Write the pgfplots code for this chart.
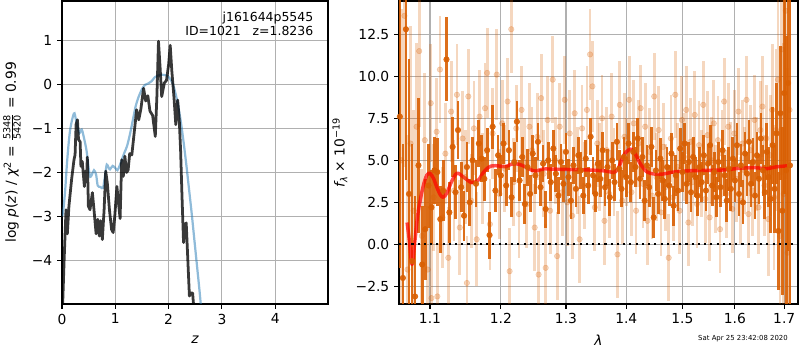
\documentclass[border=0pt]{standalone}
\usepackage{pgfplots}
\pgfplotsset{compat=1.18}
\usepackage{pgfplotstable}
\usepackage{fontspec}
\setmainfont{DejaVu Sans}
\definecolor{mplgrid}{HTML}{B0B0B0}
\definecolor{dorange}{RGB}{217,95,2}
\definecolor{mplblue}{RGB}{31,119,180}

\pgfplotstableread{
x y e
1.060 7.6 9
1.064 -2.0 8
1.068 12.8 9
1.072 3.0 8
1.076 -1.0 7
1.080 -3.1 6
1.0845 4.7 4
1.0895 -1.2 3.5
1.0935 0.9 3
1.098 3.5 2.5
1.102 2.2 2.2
1.106 4.4 2
1.110 4.3 2
1.114 1.5 2
1.118 3.2 1.8
1.1225 11.0 2.5
1.1265 1.9 1.8
1.131 5.8 1.8
1.135 3.1 1.6
1.1385 6.8 1.7
1.143 3.4 1.5
1.147 1.7 1.5
1.151 4.6 1.5
1.155 2.5 1.4
1.159 5.0 1.4
1.164 3.6 1.4
1.168 6.0 1.4
1.172 5.1 1.4
1.176 3.9 1.3
1.180 5.6 1.3
1.1835 0.55 1.4
1.188 7.0 1.3
1.192 3.2 1.3
1.196 5.3 1.2
1.200 4.1 1.2
1.204 6.0 1.2
1.208 3.5 1.2
1.212 5.6 1.2
1.216 2.8 1.2
1.220 4.9 1.2
1.224 7.3 1.2
1.228 3.8 1.2
1.232 5.2 1.2
1.236 2.4 1.2
1.240 4.6 1.1
1.244 3.0 1.1
1.248 5.4 1.1
1.252 4.1 1.1
1.256 6.1 1.1
1.260 3.4 1.1
1.264 4.8 1.1
1.268 2.1 1.1
1.272 5.0 1.1
1.276 3.7 1.1
1.280 5.7 1.1
1.284 4.2 1.1
1.288 2.9 1.1
1.292 4.9 1.1
1.296 3.6 1.1
1.300 5.5 1.1
1.304 4.0 1.1
1.308 2.6 1.1
1.312 4.7 1.1
1.316 3.3 1.1
1.320 5.3 1.1
1.324 4.4 1.1
1.328 2.9 1.1
1.332 5.1 1.1
1.336 3.5 1.1
1.340 6.4 1.1
1.344 4.1 1.1
1.348 3.0 1.1
1.352 4.8 1.1
1.356 3.9 1.1
1.360 5.6 1.1
1.364 3.4 1.1
1.368 4.6 1.1
1.372 2.8 1.1
1.376 5.0 1.1
1.380 3.7 1.1
1.384 6.1 1.1
1.388 4.5 1.1
1.392 3.3 1.1
1.396 5.2 1.2
1.400 4.0 1.2
1.404 6.0 1.2
1.408 3.7 1.2
1.412 5.5 1.2
1.416 4.6 1.2
1.420 6.3 1.2
1.424 3.9 1.2
1.428 5.2 1.2
1.432 2.6 1.2
1.436 4.7 1.2
1.440 3.4 1.2
1.444 5.8 1.2
1.448 1.6 1.2
1.452 4.4 1.2
1.456 3.0 1.2
1.460 5.1 1.2
1.464 3.8 1.2
1.468 2.7 1.2
1.472 4.6 1.2
1.476 3.5 1.2
1.480 5.4 1.2
1.484 2.3 1.2
1.488 4.1 1.2
1.492 3.2 1.2
1.496 5.7 1.2
1.500 4.3 1.2
1.504 6.0 1.2
1.508 3.6 1.2
1.512 4.9 1.2
1.516 3.1 1.2
1.520 5.2 1.2
1.524 4.0 1.2
1.528 2.9 1.2
1.532 4.6 1.2
1.536 3.7 1.2
1.540 5.3 1.2
1.544 3.2 1.2
1.548 4.8 1.2
1.552 5.9 1.2
1.556 3.5 1.2
1.560 4.3 1.2
1.564 2.8 1.2
1.568 4.9 1.2
1.572 3.4 1.2
1.576 5.6 1.2
1.580 4.1 1.2
1.584 2.6 1.3
1.588 4.5 1.3
1.592 3.3 1.3
1.596 5.1 1.3
1.600 3.8 1.3
1.604 5.9 1.3
1.608 3.0 1.3
1.612 4.7 1.3
1.616 2.5 1.3
1.620 5.4 1.3
1.624 4.2 1.3
1.628 6.1 1.3
1.632 3.6 1.4
1.636 4.9 1.4
1.640 2.9 1.4
1.644 5.3 1.4
1.648 3.9 1.5
1.652 6.3 1.5
1.656 4.4 1.5
1.660 3.1 1.6
1.664 5.5 1.7
1.668 4.0 1.8
1.672 2.7 2.0
1.676 5.9 2.3
1.680 3.3 2.6
1.684 6.6 3.0
1.688 0.8 3.5
1.692 7.8 4
1.696 2.0 5
1.700 9.0 6
1.704 4.4 8
1.708 9.6 10
1.712 4.7 12
}\darkdata

\pgfplotstableread{
x y e
1.062 5.0 9
1.066 13.6 9
1.070 -1.5 8
1.074 6.0 7
1.078 2.0 6
1.082 7.0 5
1.0855 11.5 4.5
1.089 0.5 4
1.093 6.2 4
1.097 -1.5 3.8
1.101 8.4 3.5
1.102 -3.2 3.3
1.105 2.8 3.2
1.109 6.7 3.2
1.110 -3.1 3.2
1.1135 10.4 3.2
1.117 1.6 3
1.121 5.4 3
1.125 -0.8 3
1.129 7.9 3
1.133 3.2 3
1.137 8.9 3
1.141 1.0 2.8
1.145 6.3 2.8
1.149 4.0 2.8
1.151 -2.3 2.8
1.153 8.8 2.8
1.157 2.6 2.8
1.161 6.9 2.8
1.165 0.3 2.8
1.169 7.6 2.8
1.173 3.9 2.7
1.177 8.1 2.7
1.180 10.2 2.7
1.184 1.2 2.7
1.188 6.6 2.7
1.194 10.1 2.7
1.198 3.0 2.7
1.202 7.2 2.6
1.206 4.5 2.6
1.210 8.5 2.6
1.213 -1.6 2.6
1.2155 12.8 2.6
1.219 3.7 2.6
1.223 6.9 2.6
1.227 1.8 2.6
1.231 8.0 2.6
1.235 4.9 2.6
1.239 2.4 2.6
1.243 7.0 2.6
1.247 5.6 2.6
1.251 1.0 2.6
1.255 6.4 2.6
1.257 -1.8 2.6
1.261 8.7 2.6
1.265 4.2 2.6
1.268 -1.4 2.6
1.271 7.4 2.6
1.275 2.0 2.6
1.279 9.8 2.6
1.283 5.0 2.6
1.286 -0.7 2.6
1.290 7.0 2.6
1.294 3.1 2.6
1.298 8.6 2.6
1.302 2.5 2.6
1.306 6.6 2.6
1.310 1.7 2.6
1.314 7.8 2.6
1.318 4.4 2.6
1.322 0.3 2.6
1.326 6.9 2.6
1.330 3.5 2.6
1.334 8.0 2.6
1.339 11.3 2.7
1.343 9.4 2.7
1.347 2.2 2.6
1.351 6.0 2.6
1.355 4.6 2.6
1.359 7.5 2.6
1.363 1.4 2.6
1.367 5.6 2.6
1.371 3.0 2.6
1.375 7.6 2.6
1.379 4.3 2.6
1.385 -0.6 2.6
1.389 8.3 2.6
1.393 2.6 2.6
1.397 6.4 2.6
1.401 4.9 2.6
1.405 8.6 2.6
1.409 3.1 2.6
1.413 7.2 2.6
1.417 2.0 2.6
1.421 6.0 2.6
1.425 8.1 2.6
1.429 3.6 2.6
1.433 7.0 2.6
1.437 1.4 2.6
1.441 5.5 2.6
1.445 2.9 2.6
1.449 8.8 2.6
1.453 4.0 2.6
1.457 6.8 2.6
1.461 1.9 2.6
1.465 5.8 2.6
1.469 3.4 2.6
1.475 -0.8 2.6
1.479 6.3 2.6
1.483 2.8 2.6
1.487 8.9 2.6
1.491 4.6 2.6
1.495 2.0 2.6
1.499 7.4 2.6
1.503 5.2 2.6
1.507 8.0 2.6
1.511 1.3 2.6
1.515 6.1 2.6
1.519 3.7 2.6
1.523 7.7 2.6
1.527 2.4 2.6
1.531 5.9 2.6
1.535 4.2 2.6
1.539 8.3 2.6
1.543 2.7 2.6
1.547 6.5 2.6
1.551 1.6 2.6
1.555 5.0 2.6
1.559 7.2 2.6
1.563 3.3 2.6
1.567 6.2 2.6
1.571 0.9 2.6
1.575 5.4 2.6
1.579 8.5 2.6
1.583 3.0 2.6
1.587 7.0 2.6
1.591 4.7 2.6
1.595 2.1 2.6
1.599 6.6 2.6
1.603 3.9 2.6
1.607 7.9 2.6
1.611 2.6 2.6
1.615 6.0 2.6
1.619 4.4 2.6
1.623 8.6 2.6
1.627 1.8 2.6
1.631 5.6 2.7
1.635 3.2 2.7
1.639 7.4 2.7
1.643 4.8 2.8
1.647 2.2 2.8
1.651 6.8 2.9
1.655 8.2 3
1.659 3.5 3
1.663 6.3 3.2
1.667 1.5 3.4
1.671 5.3 3.6
1.675 8.0 3.9
1.679 2.8 4.3
1.683 6.8 4.8
1.687 9.8 5.5
1.691 0.5 6.5
1.695 11.6 7.5
1.699 3.0 9
1.703 13.9 10
1.707 -0.5 11
1.711 8.0 12
}\lightdata

\pgfplotsset{
  mplax/.style={
    scale only axis, anchor=south west,
    axis line style={line width=0.8pt},
    grid=major, grid style={mplgrid, line width=0.8pt},
    tick align=outside, major tick length=3.5pt,
    tick style={black, line width=0.8pt},
    xtick pos=bottom, ytick pos=left,
    tick label style={font=\fontsize{10}{12}\selectfont},
    /pgf/number format/assume math mode=true,
    label style={font=\fontsize{10}{12}\selectfont},
  }
}

\begin{document}
\begin{tikzpicture}
\path[use as bounding box] (0,0) rectangle (8in,3.5in);

\begin{axis}[mplax,
  at={(0.62in,0.46in)}, width=2.66in, height=3.03in,
  xmin=0, xmax=4.99, ymin=-5.0, ymax=1.91,
  xtick={0,1,2,3,4}, xticklabels={0,1,2,3,4},
  ytick={-4,-3,-2,-1,0,1}, yticklabels={−4,−3,−2,−1,0,1},
  xlabel={\itshape z},
  xlabel style={at={(axis description cs:0.5,-0.119)}, anchor=center},
  ylabel={log {\itshape p}(\textit{z}) / {\itshape χ}\textsuperscript{2} = $\frac{\mbox{\fontsize{7}{7}\selectfont 5348}}{\mbox{\fontsize{7}{7}\selectfont 5420}}$ = 0.99},
  ylabel style={at={(axis description cs:-0.188,0.5)}, anchor=center},
]
\addplot[mplblue, opacity=0.5, line width=1.6pt, smooth] coordinates {
(0.005,-3.0) (0.03,-2.8) (0.06,-2.4) (0.09,-1.85) (0.12,-1.4) (0.15,-1.05) (0.18,-0.85) (0.21,-0.7) (0.235,-0.65) (0.27,-0.85) (0.3,-1.0) (0.33,-1.1) (0.37,-1.02) (0.41,-1.2) (0.46,-1.5) (0.5,-1.9) (0.53,-2.1) (0.56,-2.05) (0.6,-1.95) (0.64,-2.05) (0.67,-2.3) (0.72,-2.33) (0.77,-2.35) (0.81,-2.05) (0.84,-1.82) (0.87,-1.88) (0.9,-1.93) (0.95,-1.85) (1.0,-1.9) (1.04,-1.95) (1.08,-1.85) (1.12,-1.72) (1.17,-1.55) (1.22,-1.4) (1.28,-1.1) (1.33,-0.8) (1.38,-0.5) (1.43,-0.3) (1.5,-0.1) (1.56,0.0) (1.62,0.03) (1.68,0.08) (1.74,0.17) (1.8,0.21) (1.87,0.23) (1.93,0.22) (1.98,0.2) (2.03,0.13) (2.08,0.02) (2.13,-0.2) (2.18,-0.48) (2.23,-0.85) (2.28,-1.3) (2.33,-1.8) (2.38,-2.35) (2.43,-2.9) (2.48,-3.5) (2.53,-4.1) (2.58,-4.7) (2.61,-5.1)
};
\addplot[black, opacity=0.78, line width=2pt, line join=round] coordinates {
(0.01,-5.1) (0.04,-4.0) (0.075,-2.85) (0.1,-3.4) (0.13,-2.77) (0.18,-2.16) (0.225,-1.71) (0.245,-1.6) (0.265,-0.9) (0.29,-0.8) (0.31,-1.25) (0.34,-1.3) (0.355,-1.86) (0.38,-1.75) (0.42,-2.32) (0.44,-1.97) (0.46,-2.2) (0.475,-1.65) (0.495,-2.77) (0.525,-2.85) (0.57,-2.46) (0.6,-2.85) (0.64,-3.4) (0.67,-3.07) (0.70,-3.45) (0.725,-3.1) (0.757,-3.53) (0.79,-2.85) (0.82,-1.97) (0.85,-2.24) (0.89,-2.85) (0.93,-3.3) (0.96,-3.37) (0.99,-3.0) (1.03,-2.32) (1.06,-2.7) (1.09,-3.05) (1.12,-1.71) (1.15,-2.09) (1.18,-1.63) (1.21,-2.0) (1.24,-1.95) (1.27,-1.57) (1.31,-1.6) (1.36,-1.03) (1.40,-0.57) (1.44,-0.8) (1.48,-0.55) (1.53,-0.08) (1.57,-0.37) (1.61,-0.25) (1.65,-0.6) (1.70,-0.7) (1.75,-1.18) (1.78,-0.27) (1.81,0.99) (1.84,0.4) (1.87,-0.27) (1.92,0.04) (1.96,0.1) (2.0,0.46) (2.03,0.9) (2.06,0.32) (2.1,-0.28) (2.135,-0.91) (2.17,-0.35) (2.2,-0.8) (2.225,-1.5) (2.25,-2.5) (2.28,-3.6) (2.31,-3.23) (2.33,-3.15) (2.35,-3.7) (2.39,-4.82) (2.41,-4.75) (2.45,-4.75) (2.48,-5.2)
};
\end{axis}

\node[anchor=north east, align=right, font=\fontsize{9}{10.1}\selectfont, inner sep=0pt] at (3.135in,3.38in) {j161644p5545\\ID=1021\ \ \ z=1.8236};

\begin{axis}[mplax,
  at={(3.99in,0.46in)}, width=3.99in, height=3.03in,
  xmode=log, xmin=1.0589, xmax=1.729, ymin=-3.55, ymax=14.48,
  xtick={1.1,1.2,1.3,1.4,1.5,1.6,1.7}, xticklabels={1.1,1.2,1.3,1.4,1.5,1.6,1.7},
  minor xtick={},
  ytick={-2.5,0,2.5,5,7.5,10,12.5}, yticklabels={−2.5,0.0,2.5,5.0,7.5,10.0,12.5},
  xlabel={\itshape λ},
  xlabel style={at={(axis description cs:0.5,-0.119)}, anchor=center},
  ylabel={{\itshape f}\raisebox{-0.35ex}{\fontsize{7}{7}\selectfont\itshape λ} × 10\textsuperscript{−19}},
  ylabel style={at={(axis description cs:-0.148,0.5)}, anchor=center},
]
\addplot[only marks, mark=*, mark size=2pt, color=dorange, opacity=0.25,
  error bars/.cd, y dir=both, y explicit, error mark=none,
  error bar style={line width=2pt, dorange, opacity=0.25}]
  table[x=x, y=y, y error=e] {\lightdata};
\addplot[only marks, mark=*, mark size=2pt, color=dorange, opacity=0.9,
  error bars/.cd, y dir=both, y explicit, error mark=none,
  error bar style={line width=2pt, dorange, opacity=0.9}]
  table[x=x, y=y, y error=e] {\darkdata};
\addplot[red, opacity=0.7, line width=2.5pt, smooth, line join=round] coordinates {
(1.0695,1.3) (1.0725,0.2) (1.076,-1.2) (1.080,0.3) (1.084,1.9) (1.0905,3.4) (1.0955,4.1) (1.1,4.23) (1.105,3.9) (1.109,3.43) (1.114,2.95) (1.118,2.8) (1.123,3.05) (1.1295,3.73) (1.135,4.15) (1.139,4.23) (1.1485,3.93) (1.158,3.67) (1.1675,3.83) (1.174,4.25) (1.18,4.52) (1.186,4.66) (1.192,4.68) (1.2,4.65) (1.207,4.62) (1.2145,4.75) (1.2217,4.8) (1.232,4.7) (1.242,4.5) (1.2485,4.38) (1.2535,4.36) (1.264,4.48) (1.285,4.47) (1.307,4.45) (1.34,4.42) (1.366,4.36) (1.3785,4.28) (1.386,4.5) (1.3943,5.2) (1.4,5.5) (1.4085,5.67) (1.416,5.35) (1.424,4.82) (1.4355,4.32) (1.4495,4.18) (1.464,4.18) (1.4835,4.3) (1.5135,4.38) (1.5747,4.42) (1.607,4.52) (1.64,4.56) (1.664,4.5) (1.681,4.6) (1.7055,4.67)
};
\addplot[black, line width=1.5pt, dash pattern=on 1.5pt off 3pt] coordinates {(1.0589,0) (1.729,0)};
\end{axis}

\node[font=\fontsize{5}{6}\selectfont] at (7.43in,0.11in) {Sat Apr 25 23:42:08 2020};
\end{tikzpicture}
\end{document}
